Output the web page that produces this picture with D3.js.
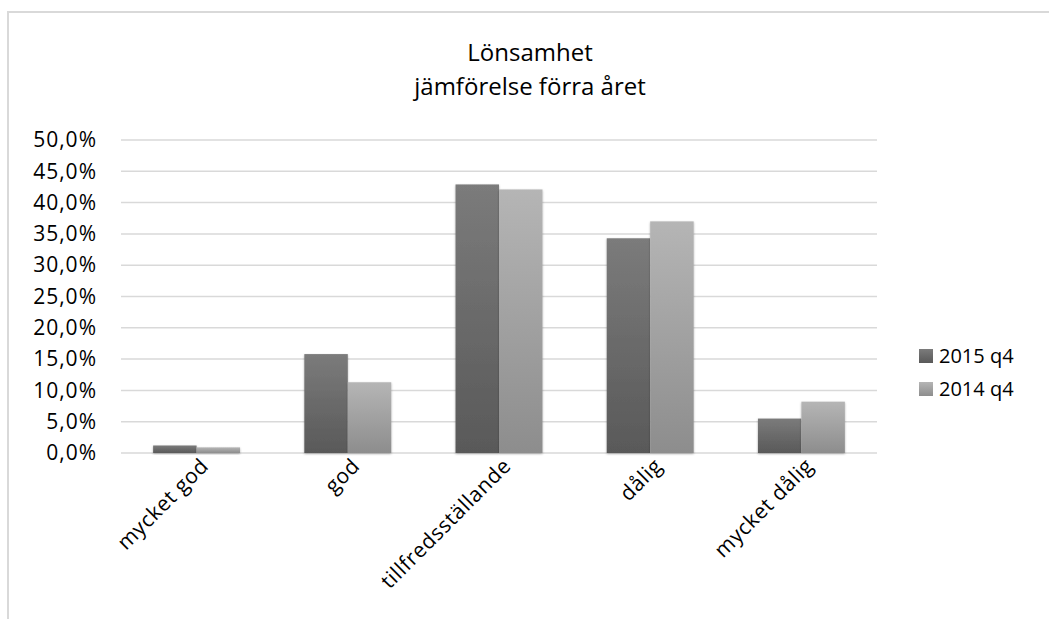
<!DOCTYPE html>
<html>
<head>
<meta charset="utf-8">
<script src="https://cdn.jsdelivr.net/npm/d3@7"></script>
<style>
  body { margin: 0; background: #fff; }
  svg { font-family: "Century Gothic", Futura, "Open Sans", sans-serif; }
</style>
</head>
<body>
<svg class="chart"></svg>
<script>
var categories = ["mycket god", "god", "tillfredsställande", "dålig", "mycket dålig"],
    seriesNames = ["2015 q4", "2014 q4"],
    values2015 = [0.012, 0.158, 0.429, 0.343, 0.055],
    values2014 = [0.009, 0.113, 0.421, 0.370, 0.082],
    yTicks = [0, 0.05, 0.10, 0.15, 0.20, 0.25, 0.30, 0.35, 0.40, 0.45, 0.50];

var width = 1049,
    height = 619;

var svg = d3.select(".chart")
    .attr("width", width)
    .attr("height", height);

// gradients + shadow for bars
var defs = svg.append("defs");
var grads = [["g2015", "#7b7b7b", "#595959"], ["g2014", "#b5b5b5", "#8d8d8d"]];
grads.forEach(function(g) {
  var lg = defs.append("linearGradient").attr("id", g[0])
      .attr("x1", 0).attr("y1", 0).attr("x2", 0).attr("y2", 1);
  lg.append("stop").attr("offset", "0%").attr("stop-color", g[1]);
  lg.append("stop").attr("offset", "100%").attr("stop-color", g[2]);
});
defs.append("filter").attr("id", "shadow")
    .attr("x", "-20%").attr("y", "-20%").attr("width", "140%").attr("height", "140%")
  .append("feDropShadow")
    .attr("dx", 0).attr("dy", 1).attr("stdDeviation", 1.2)
    .attr("flood-color", "#000").attr("flood-opacity", 0.3);

// outer frame
svg.append("rect")
    .attr("x", 8).attr("y", 12)
    .attr("width", width + 20).attr("height", height + 20)
    .attr("fill", "none")
    .attr("stroke", "#d9d9d9")
    .attr("stroke-width", 2);

// title
svg.append("text")
    .attr("x", 530).attr("y", 61)
    .attr("text-anchor", "middle")
    .style("font-size", "24px")
    .text("Lönsamhet");
svg.append("text")
    .attr("x", 530).attr("y", 95)
    .attr("text-anchor", "middle")
    .style("font-size", "24px")
    .text("jämförelse förra året");

var y = d3.scaleLinear().domain([0, 0.5]).range([453, 140]),
    x0 = d3.scaleBand().domain(categories).range([121, 877])
        .paddingInner(0.425).paddingOuter(0.2125),
    x1 = d3.scaleBand().domain(seriesNames).range([0, x0.bandwidth()]);

var fmt = function(d) { return d3.format(".1f")(d * 100).replace(".", ",") + "%"; };

// gridlines
svg.append("g")
    .attr("class", "grid")
  .selectAll("line")
    .data(yTicks)
  .enter().append("line")
    .attr("x1", 121).attr("x2", 877)
    .attr("y1", function(d) { return y(d); })
    .attr("y2", function(d) { return y(d); })
    .attr("stroke", "#d9d9d9")
    .attr("stroke-width", 1.5);

// y axis labels
var yAxis = d3.axisLeft(y).tickValues(yTicks).tickFormat(fmt).tickSize(0).tickPadding(0);
var yg = svg.append("g")
    .attr("transform", "translate(97,0)")
    .call(yAxis)
    .attr("font-family", null)
    .attr("font-size", null);
yg.select(".domain").remove();
yg.selectAll("text")
    .style("font-size", "21px")
    .style("letter-spacing", "1px")
    .attr("fill", "#000");

// bars
var rows = categories.map(function(c, i) {
  return {cat: c, vals: [
    {s: seriesNames[0], v: values2015[i], fill: "url(#g2015)"},
    {s: seriesNames[1], v: values2014[i], fill: "url(#g2014)"}
  ]};
});

var groups = svg.append("g").selectAll("g")
    .data(rows)
  .enter().append("g")
    .attr("transform", function(d) { return "translate(" + x0(d.cat) + ",0)"; });

groups.selectAll("rect")
    .data(function(d) { return d.vals; })
  .enter().append("rect")
    .attr("x", function(d) { return x1(d.s); })
    .attr("y", function(d) { return y(d.v); })
    .attr("width", x1.bandwidth())
    .attr("height", function(d) { return y(0) - y(d.v); })
    .attr("fill", function(d) { return d.fill; })
    .attr("filter", "url(#shadow)");

// x axis labels, rotated
var xAxis = d3.axisBottom(x0).tickSize(0).tickPadding(0);
var xg = svg.append("g")
    .attr("transform", "translate(0,462)")
    .call(xAxis)
    .attr("font-family", null)
    .attr("font-size", null);
xg.select(".domain").remove();
xg.selectAll("text")
    .style("font-size", "21px")
    .style("letter-spacing", "0.6px")
    .attr("fill", "#000")
    .attr("text-anchor", "end")
    .attr("y", 0)
    .attr("dy", "0.35em")
    .attr("transform", "translate(8,0) rotate(-45)");

// legend
var legend = svg.append("g").selectAll("g")
    .data([["2015 q4", "url(#g2015)"], ["2014 q4", "url(#g2014)"]])
  .enter().append("g")
    .attr("transform", function(d, i) { return "translate(919," + (356 + i * 33) + ")"; });
legend.append("rect")
    .attr("x", 0).attr("y", -7)
    .attr("width", 14).attr("height", 14)
    .attr("fill", function(d) { return d[1]; });
legend.append("text")
    .attr("x", 20).attr("y", 0)
    .attr("dy", "0.35em")
    .style("font-size", "20px")
    .text(function(d) { return d[0]; });
</script>
</body>
</html>
